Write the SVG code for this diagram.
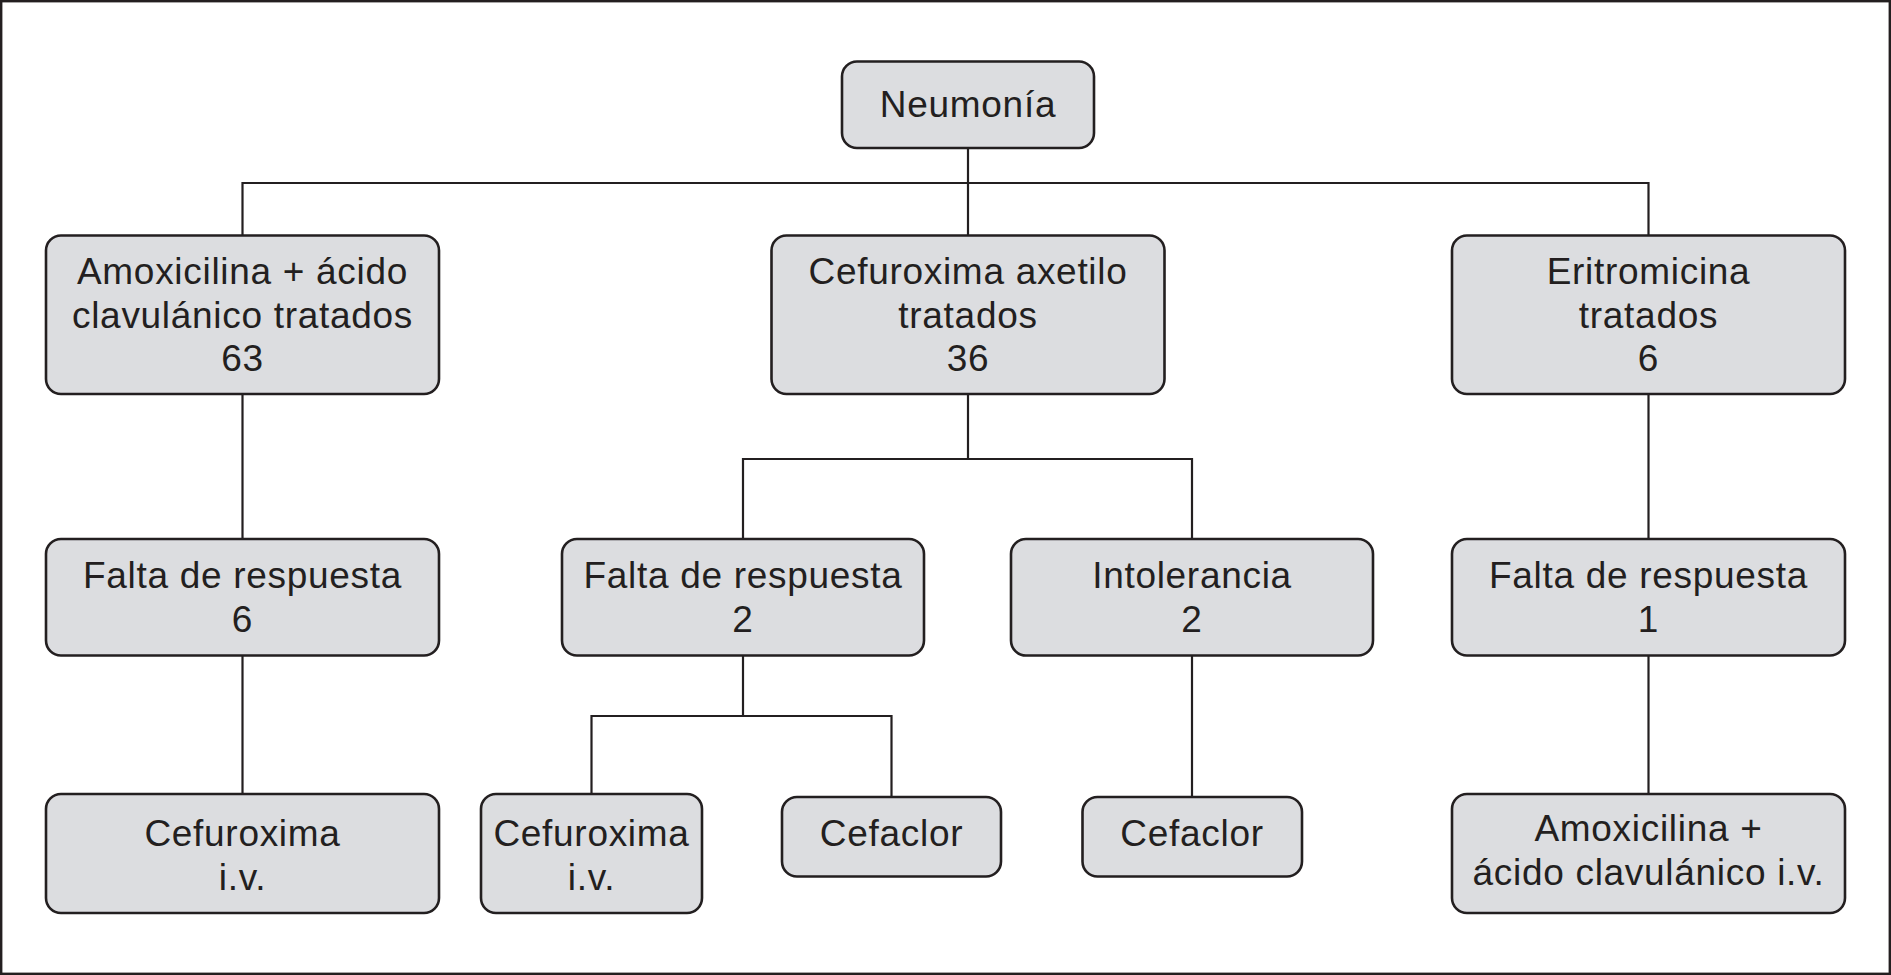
<svg xmlns="http://www.w3.org/2000/svg" width="1891" height="975" viewBox="0 0 1891 975">
<style>
.box{fill:#dcdde0;stroke:#231f20;stroke-width:2.6}
.t{font-family:"Liberation Sans",Arial,Helvetica,sans-serif;font-size:37px;letter-spacing:0.7px;fill:#231f20;text-anchor:middle}
.c{fill:none;stroke:#231f20;stroke-width:2.2}
</style>
<rect x="1.2" y="1.2" width="1888.6" height="972.6" fill="#ffffff" stroke="#231f20" stroke-width="2.4"/>
<g id="connectors" class="c">
<path d="M968,148V235"/>
<path d="M242.5,235V183H1648.5V235"/>
<path d="M242.5,394V539"/>
<path d="M242.5,656V794"/>
<path d="M968,394V459"/>
<path d="M743,539V459H1192V539"/>
<path d="M743,656V716"/>
<path d="M591.5,794V716H891.5V797"/>
<path d="M1192,656V797"/>
<path d="M1648.5,394V539"/>
<path d="M1648.5,656V794"/>
</g>
<g id="n-neumonia">
<rect class="box" x="842" y="61.5" width="252" height="86.5" rx="15"/>
<text class="t" x="968" y="117">Neumonía</text>
</g>
<g id="n-amox">
<rect class="box" x="46" y="235.5" width="393" height="158.5" rx="15"/>
<text class="t" x="242.5" y="284">Amoxicilina + ácido</text>
<text class="t" x="242.5" y="328">clavulánico tratados</text>
<text class="t" x="242.5" y="371">63</text>
</g>
<g id="n-cefur">
<rect class="box" x="771.5" y="235.5" width="393" height="158.5" rx="15"/>
<text class="t" x="968" y="284">Cefuroxima axetilo</text>
<text class="t" x="968" y="328">tratados</text>
<text class="t" x="968" y="371">36</text>
</g>
<g id="n-eritro">
<rect class="box" x="1452" y="235.5" width="393" height="158.5" rx="15"/>
<text class="t" x="1648.5" y="284">Eritromicina</text>
<text class="t" x="1648.5" y="328">tratados</text>
<text class="t" x="1648.5" y="371">6</text>
</g>
<g id="n-falta6">
<rect class="box" x="46" y="539" width="393" height="116.5" rx="15"/>
<text class="t" x="242.5" y="588">Falta de respuesta</text>
<text class="t" x="242.5" y="632">6</text>
</g>
<g id="n-falta2">
<rect class="box" x="562" y="539" width="362" height="116.5" rx="15"/>
<text class="t" x="743" y="588">Falta de respuesta</text>
<text class="t" x="743" y="632">2</text>
</g>
<g id="n-intol">
<rect class="box" x="1011" y="539" width="362" height="116.5" rx="15"/>
<text class="t" x="1192" y="588">Intolerancia</text>
<text class="t" x="1192" y="632">2</text>
</g>
<g id="n-falta1">
<rect class="box" x="1452" y="539" width="393" height="116.5" rx="15"/>
<text class="t" x="1648.5" y="588">Falta de respuesta</text>
<text class="t" x="1648.5" y="632">1</text>
</g>
<g id="n-cefiv1">
<rect class="box" x="46" y="794" width="393" height="119" rx="15"/>
<text class="t" x="242.5" y="846">Cefuroxima</text>
<text class="t" x="242.5" y="890">i.v.</text>
</g>
<g id="n-cefiv2">
<rect class="box" x="481" y="794" width="221" height="119" rx="15"/>
<text class="t" x="591.5" y="846">Cefuroxima</text>
<text class="t" x="591.5" y="890">i.v.</text>
</g>
<g id="n-cefaclor1">
<rect class="box" x="782" y="797" width="219" height="79.5" rx="15"/>
<text class="t" x="891.5" y="846">Cefaclor</text>
</g>
<g id="n-cefaclor2">
<rect class="box" x="1082.5" y="797" width="219.5" height="79.5" rx="15"/>
<text class="t" x="1192" y="846">Cefaclor</text>
</g>
<g id="n-amoxiv">
<rect class="box" x="1452" y="794" width="393" height="119" rx="15"/>
<text class="t" x="1648.5" y="841">Amoxicilina +</text>
<text class="t" x="1648.5" y="885">ácido clavulánico i.v.</text>
</g>
</svg>
